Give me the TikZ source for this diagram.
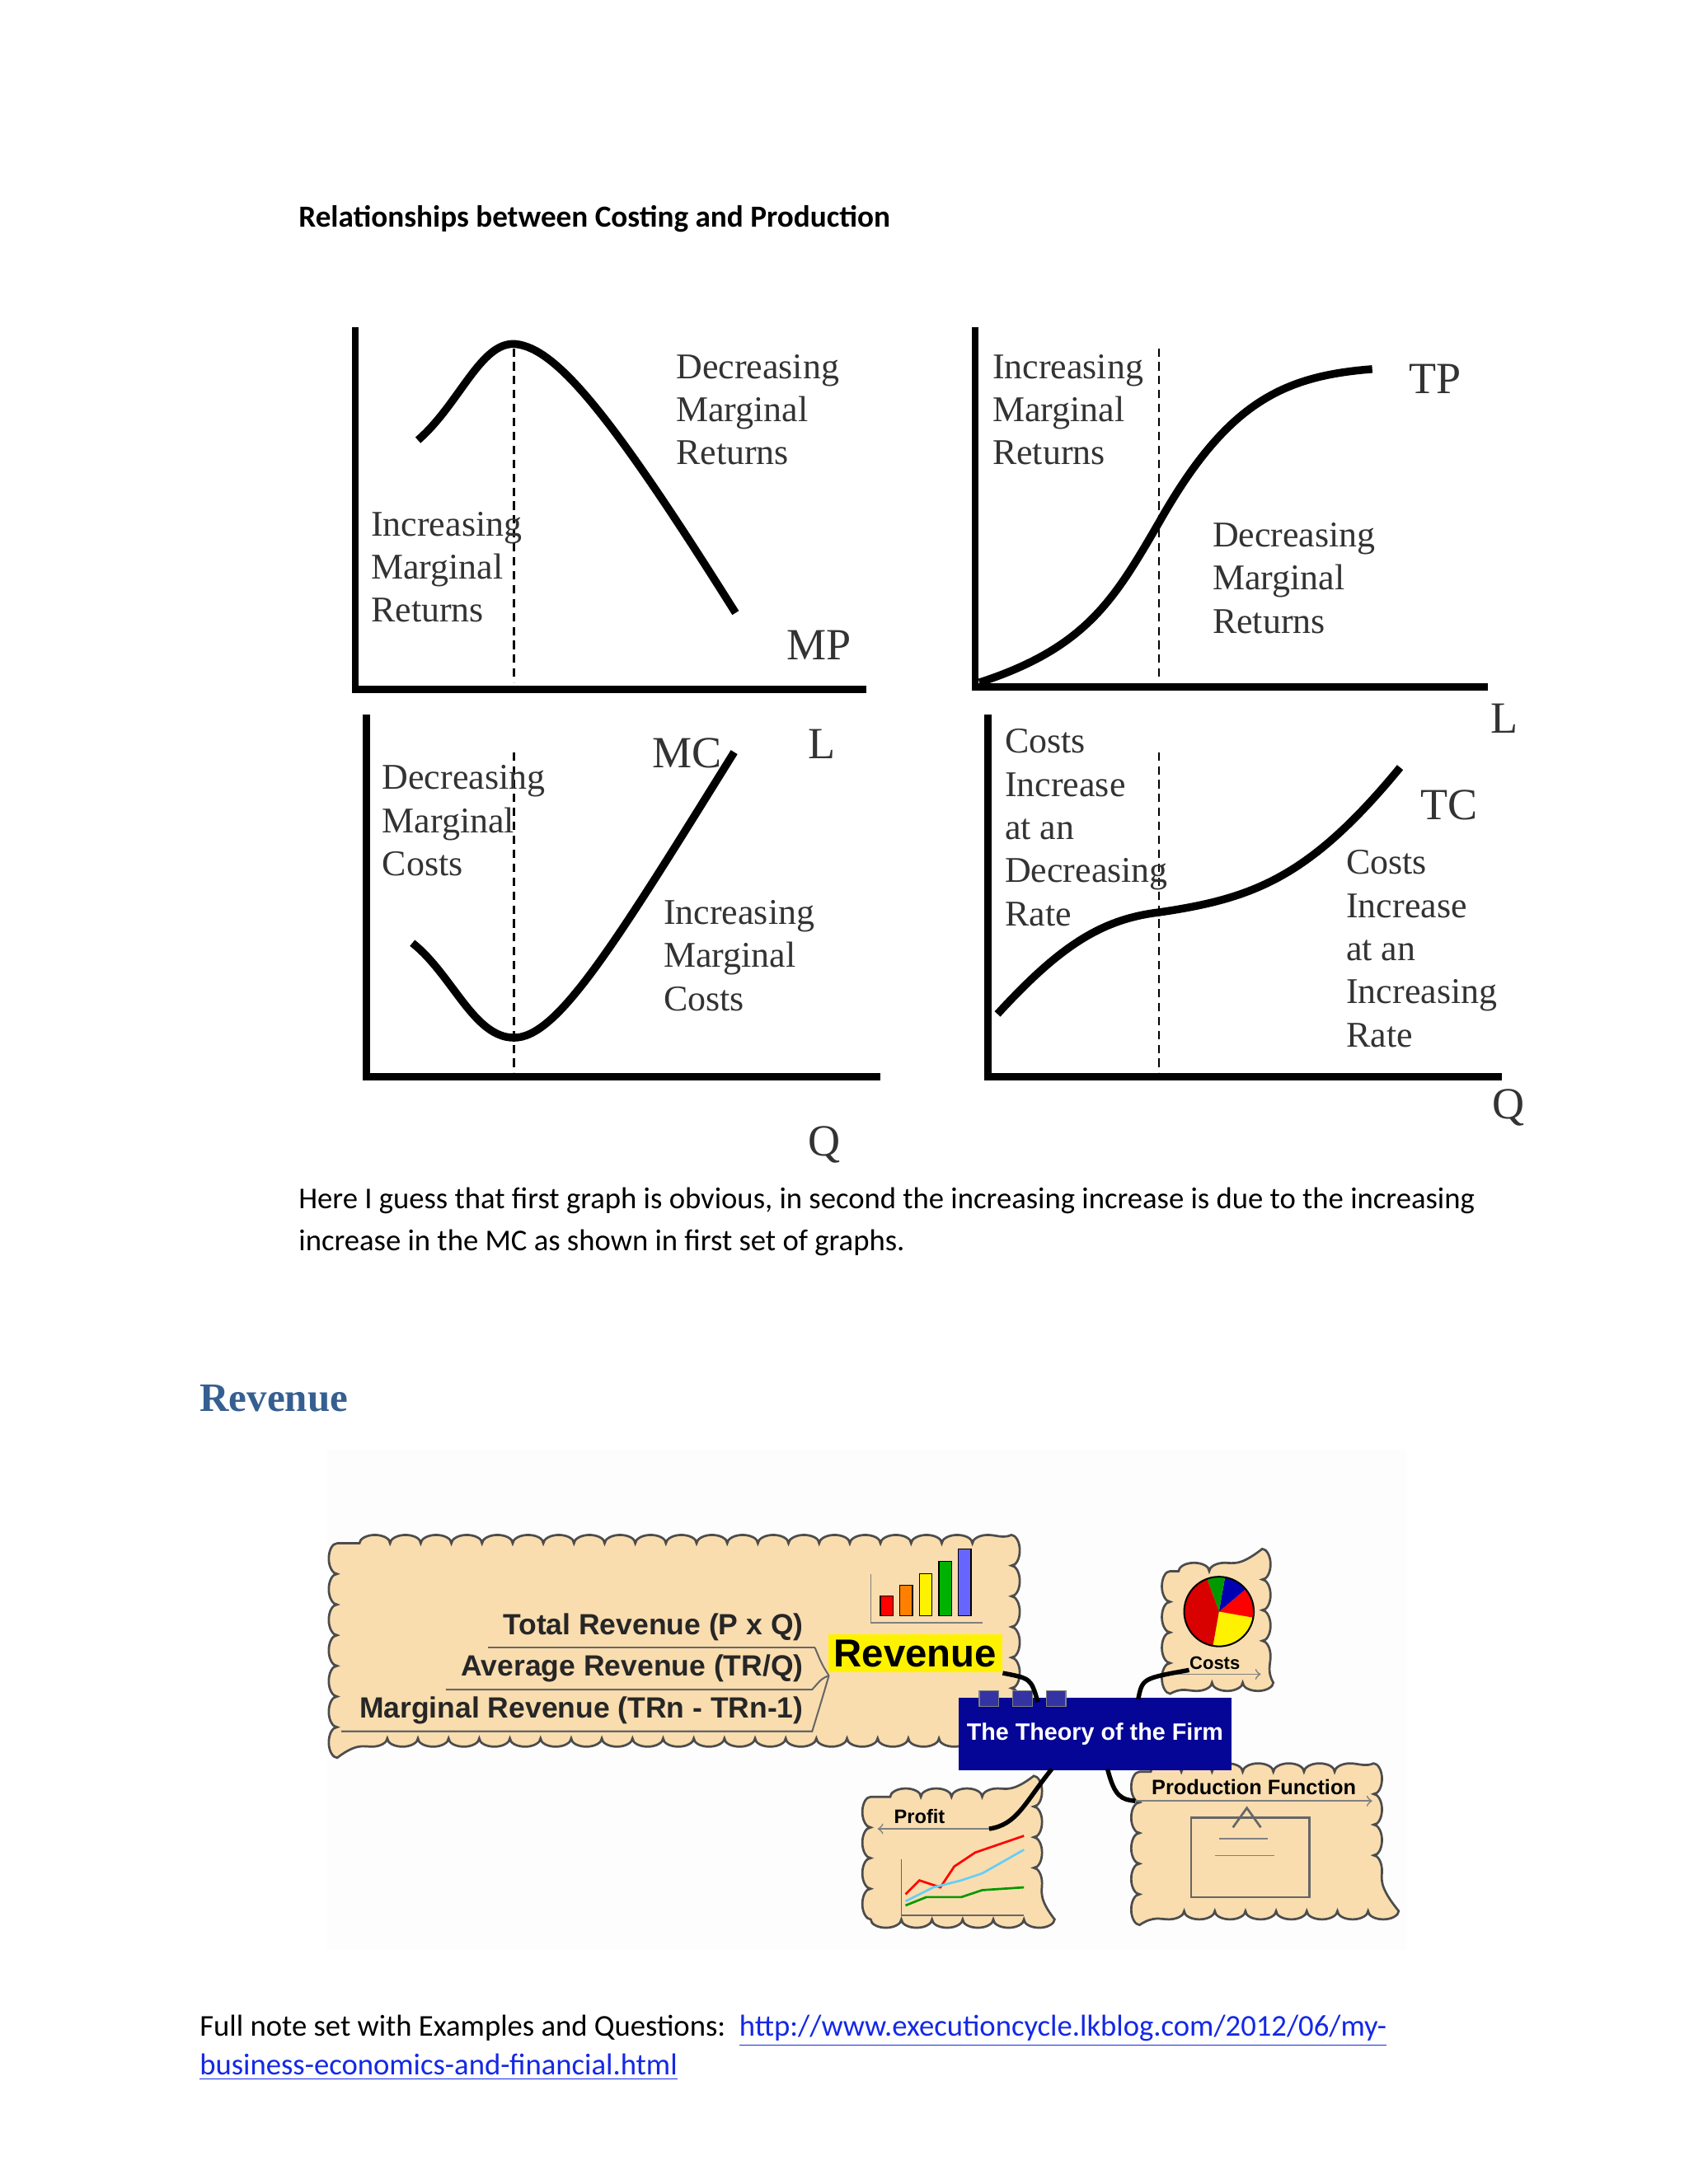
\documentclass[tikz,border=0pt]{standalone}
\usepackage{fontspec}
\setmainfont{Carlito}
\newfontfamily\gser{Liberation Serif}
\newfontfamily\arialf{Liberation Sans}
\usetikzlibrary{decorations.pathmorphing}
\definecolor{cloudc}{RGB}{249,221,175}
\definecolor{headc}{RGB}{54,95,145}
\definecolor{linkc}{RGB}{20,40,230}
\definecolor{firmc}{RGB}{5,5,150}
\begin{document}
\begin{tikzpicture}[x=0.5pt,y=-0.5pt,
  axis/.style={line width=2.6pt},
  curve/.style={line width=2.8pt},
  vdash/.style={line width=0.7pt,dash pattern=on 3pt off 2pt},
  gl/.style={font=\gser\fontsize{13}{15.5}\selectfont,align=left,anchor=north west,inner sep=0pt,text=black!80},
  gb/.style={font=\gser\fontsize{16}{18}\selectfont,inner sep=0pt,text=black!80},
  body/.style={font=\fontsize{10.85}{15}\selectfont,anchor=west,inner sep=0pt},
  cloud/.style={fill=cloudc,draw=black!70,line width=0.8pt,decorate,decoration={bumps,segment length=22pt,amplitude=-3pt}},
  mm/.style={font=\arialf\bfseries\fontsize{10.5}{12}\selectfont,anchor=east,inner sep=0pt,text=black!85},
  conn/.style={line width=1.6pt}]
\useasboundingbox (0,0) rectangle (1212,1568);
\fill[white] (0,0) rectangle (1212,1568);
\node[body,font=\bfseries\fontsize{11}{12}\selectfont] (h1) at (214,157) {Relationships between Costing and Production};
% Graph 1 MP
\coordinate (a1t) at (255,235); \coordinate (a1o) at (255,495); \coordinate (a1r) at (622,495);
\draw[axis] (a1t) -- (a1o) -- (a1r);
\draw[vdash] (369,250) -- (369,490);
\draw[curve] (300,316) .. controls (330,290) and (345,245) .. (370,247) .. controls (400,250) and (440,300) .. (528,440);
\node[gl] (t1) at (485,254) {Decreasing\\Marginal\\Returns};
\node[gl] (t2) at (266,367) {Increasing\\Marginal\\Returns};
\node[gb] (mp) at (588,463) {MP};
% Graph 2 TP
\draw[axis] (700,235) -- (700,493) -- (1068,493);
\draw[vdash] (832,250) -- (832,488);
\draw[curve] (703,490) .. controls (780,465) and (800,430) .. (832,375) .. controls (880,290) and (920,270) .. (985,265);
\node[gl] (t3) at (712,254) {Increasing\\Marginal\\Returns};
\node[gl] (t4) at (870,375) {Decreasing\\Marginal\\Returns};
\node[gb] (tp) at (1030,272) {TP};
\node[gb] (l2) at (1080,516) {L};
% Graph 3 MC
\draw[axis] (263,513) -- (263,773) -- (632,773);
\draw[vdash] (369,540) -- (369,770);
\draw[curve] (296,677) .. controls (325,700) and (340,745) .. (369,745) .. controls (400,745) and (440,680) .. (527,540);
\node[gl] (t5) at (274,549) {Decreasing\\Marginal\\Costs};
\node[gl] (t6) at (476,646) {Increasing\\Marginal\\Costs};
\node[gb] (mc) at (493,541) {MC};
\node[gb] (l1) at (590,534) {L};
\node[gb] (q1) at (592,822) {Q};
% Graph 4 TC
\draw[axis] (709,513) -- (709,773) -- (1078,773);
\draw[vdash] (832,540) -- (832,770);
\draw[curve] (716,728) .. controls (760,680) and (790,660) .. (832,655) .. controls (900,645) and (940,630) .. (1005,551);
\node[gl] (t7) at (721,523) {Costs\\Increase\\at an\\Decreasing\\Rate};
\node[gl] (t8) at (966,610) {Costs\\Increase\\at an\\Increasing\\Rate};
\node[gb] (tc) at (1040,578) {TC};
\node[gb] (q2) at (1083,795) {Q};
% body
\node[body] (p1) at (214,862) {Here I guess that first graph is obvious, in second the increasing increase is due to the increasing};
\node[body] (p2) at (214,892) {increase in the MC as shown in first set of graphs.};
\node[anchor=west,inner sep=0pt,text=headc,font=\gser\bfseries\fontsize{14.5}{16}\selectfont] (rev) at (143,1004) {Revenue};
% mind map
\fill[black!0.8] (235,1040) rectangle (1010,1400);
\path[cloud] (242,1108) rectangle (726,1248);
\path[cloud] (840,1128) rectangle (906,1208);
\path[cloud] (818,1272) rectangle (986,1372);
\path[cloud] (625,1290) rectangle (742,1378);
% bar chart
\draw[black!50,line width=0.4pt] (625,1130) -- (625,1165) -- (705,1165);
\foreach \i/\h/\c in {0/14/red,1/18/orange,2/22/yellow,3/27/green!70!black,4/32/blue!60} {
  \fill[\c,draw=black] ({632+\i*14},1160) rectangle ({641+\i*14},{1160-\h-\i*4});
}
\node[fill=yellow,inner sep=2pt,font=\arialf\bfseries\fontsize{14}{16}\selectfont] (revn) at (657,1187) {Revenue};
\node[mm] (tr) at (577,1168) {Total Revenue (P x Q)};
\node[mm] (ar) at (577,1198) {Average Revenue (TR/Q)};
\node[mm] (mr) at (577,1228) {Marginal Revenue (TRn - TRn-1)};
\draw[black!60,line width=0.6pt] (585,1183) -- (350,1183);
\draw[black!60,line width=0.6pt] (595,1203) .. controls (590,1205) .. (583,1213) -- (320,1213);
\draw[black!60,line width=0.6pt] (595,1203) .. controls (590,1220) .. (583,1243) -- (245,1243);
\draw[black!60,line width=0.6pt] (595,1203) .. controls (590,1195) .. (585,1183);
\node[fill=firmc,minimum width=98pt,minimum height=26pt,inner sep=0pt,text=white,font=\arialf\bfseries\fontsize{8.5}{10}\selectfont] (firm) at (786,1245) {The Theory of the Firm};
\foreach \x in {710,734,758} \fill[blue!55!black!80!white,draw=black!50] (\x-7,1214) rectangle (\x+7,1225);
% pie
\fill[yellow] (875,1157) -- ++(100:25) arc (100:10:25) -- cycle;
\fill[red] (875,1157) -- ++(10:25) arc (10:-40:25) -- cycle;
\fill[blue!70!black] (875,1157) -- ++(-40:25) arc (-40:-80:25) -- cycle;
\fill[green!60!black] (875,1157) -- ++(-80:25) arc (-80:-110:25) -- cycle;
\fill[red!85!black] (875,1157) -- ++(-110:25) arc (-110:-260:25) -- cycle;
\draw[black,line width=0.6pt] (875,1157) circle (12.5pt);
\node[font=\arialf\bfseries\fontsize{6.5}{8}\selectfont,inner sep=0pt] (costs) at (872,1194) {Costs};
\draw[black!50,line width=0.5pt,->] (840,1202) -- (905,1202);
\node[font=\arialf\bfseries\fontsize{7.5}{9}\selectfont,inner sep=0pt] (pf) at (900,1283) {Production Function};
\draw[black!50,line width=0.5pt,->] (815,1293) -- (985,1293);
\draw[black!60,line width=0.8pt] (855,1305) rectangle (940,1362);
\draw[black!60,line width=0.8pt] (885,1312) -- (895,1298) -- (905,1312);
\draw[black!50] (875,1320) -- (910,1320) (872,1332) -- (915,1332);
\node[font=\arialf\bfseries\fontsize{7}{8}\selectfont,inner sep=0pt] (pr) at (660,1304) {Profit};
\draw[black!50,line width=0.5pt,<-] (630,1313) -- (710,1313);
\draw[black!60,line width=0.4pt] (647,1335) -- (647,1375) -- (735,1375);
\draw[red,line width=0.8pt] (650,1360) -- (660,1350) -- (675,1355) -- (685,1340) -- (700,1330) -- (735,1318);
\draw[cyan!60,line width=0.8pt] (650,1365) -- (670,1355) -- (690,1350) -- (705,1345) -- (735,1328);
\draw[green!60!black,line width=0.8pt] (650,1368) -- (665,1362) -- (690,1362) -- (705,1357) -- (735,1355);
% connectors
\draw[conn] (revn.south east) .. controls (740,1205) .. (745,1222);
\draw[conn] (817,1220) .. controls (820,1205) .. (costs.south west);
\draw[conn] (755,1270) .. controls (735,1295) and (730,1310) .. (710,1313);
\draw[conn] (795,1270) .. controls (800,1290) and (805,1292) .. (815,1293);
% footer
\node[body] (f1) at (143,1458) {Full note set with Examples and Questions:\ \ \textcolor{linkc}{\underline{http://www.executioncycle.lkblog.com/2012/06/my-}}};
\node[body,text=linkc] (f2) at (143,1484) {\underline{business-economics-and-financial.html}};
\end{tikzpicture}
\end{document}
